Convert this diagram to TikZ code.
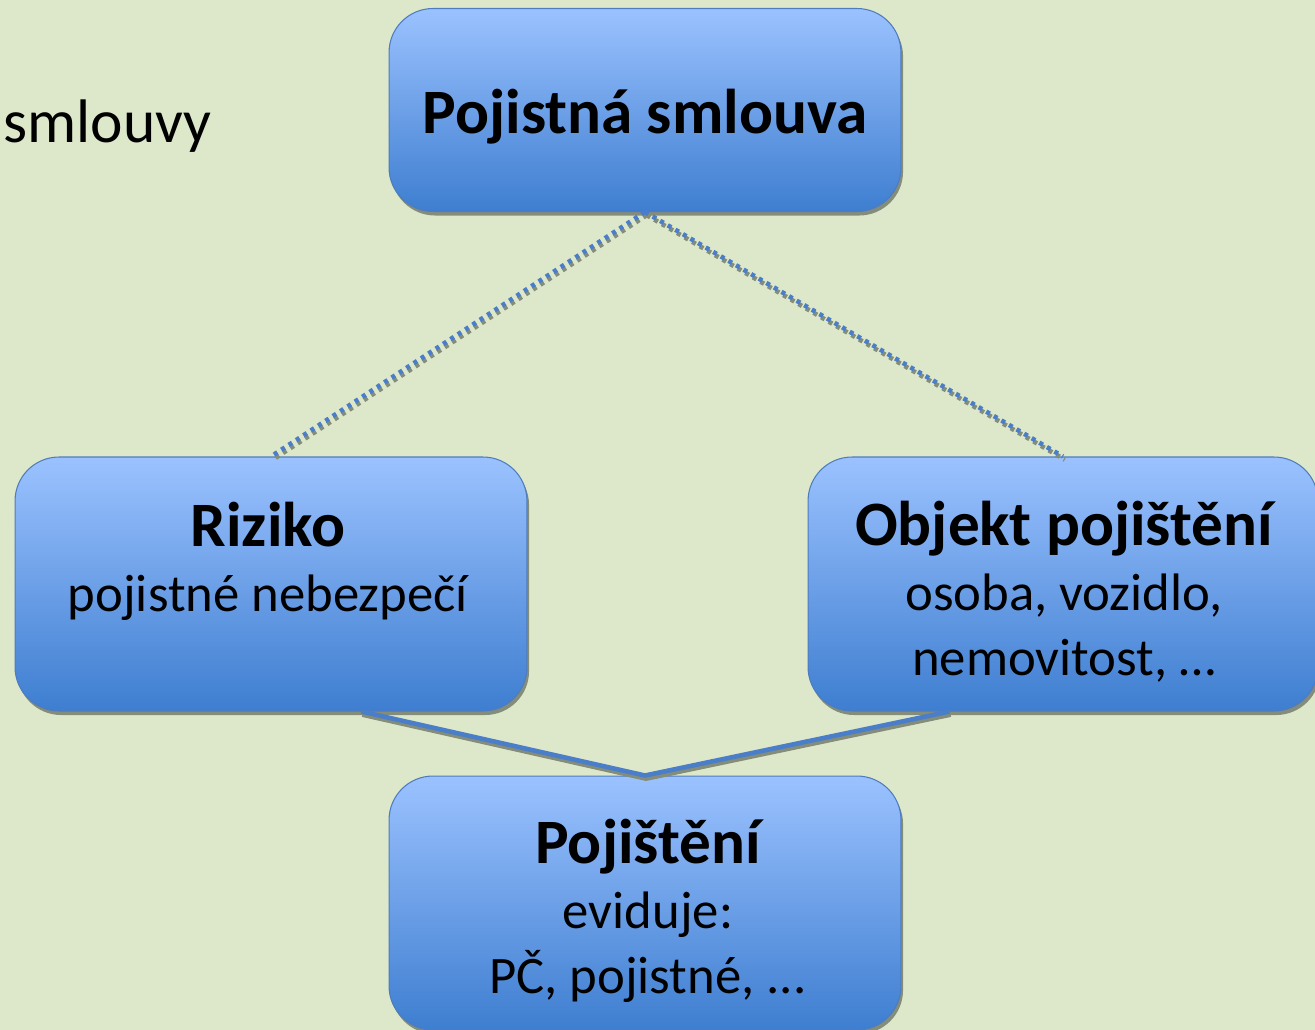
\documentclass[tikz,border=0pt]{standalone}
\usepackage{fontspec}
\setmainfont{Carlito}
\usetikzlibrary{calc,shadows}
\definecolor{bgcol}{RGB}{221,232,203}
\definecolor{boxtop}{RGB}{155,194,255}
\definecolor{boxbot}{RGB}{62,126,208}
\definecolor{boxline}{RGB}{78,124,190}
\definecolor{linkcol}{RGB}{74,126,200}
\definecolor{shadecol}{RGB}{132,140,122}

\begin{document}
\begin{tikzpicture}[x=0.02cm,y=-0.02cm,
  box/.style={draw=boxline,line width=0.6pt,rounded corners=25pt,
    top color=boxtop,bottom color=boxbot,minimum width=10.24cm,minimum height=5.08cm,
    drop shadow={shadow xshift=1.2pt,shadow yshift=-2.3pt,fill=shadecol,opacity=1}},
  boxtext/.style={align=center,font=\fontsize{30}{37}\selectfont},
  dotlink/.style={draw=linkcol,line width=2.6pt,dash pattern=on 2.3pt off 2.7pt},
  dotshade/.style={dotlink,draw=shadecol,transform canvas={shift={(1pt,-1.8pt)}}},
  solidlink/.style={draw=linkcol,line width=2.6pt},
  solidshade/.style={solidlink,draw=shadecol,transform canvas={shift={(0.6pt,-1.8pt)}}}]
\clip (0,0) rectangle (1315,1030);
\fill[bgcol] (0,0) rectangle (1315,1030);

\node[anchor=base east,inner sep=0pt,font=\fontsize{35}{42}\selectfont] (smlouvy) at (212,143) {smlouvy};

% boxes
\node[box,minimum height=4.06cm] (top) at (645,110) {};
\node[box] (riziko) at (271,584) {};
\node[box,minimum width=10.2cm] (objekt) at (1063,584) {};
\node[box] (pojisteni) at (645,903) {};

\node[boxtext] (toptxt) at (645,117) {\bfseries\fontsize{36}{43}\selectfont Pojistná smlouva};
\node[boxtext] (rizikotxt) at (268,561) {{\bfseries\fontsize{36}{43}\selectfont Riziko}\\ pojistné nebezpečí};
\node[boxtext] (objekttxt) at (1064,592) {{\bfseries\fontsize{36}{43}\selectfont Objekt pojištění}\\ osoba, vozidlo,\\ nemovitost, …};
\node[boxtext] (pojistenitxt) at (648,911) {{\bfseries\fontsize{36}{43}\selectfont Pojištění}\\ eviduje:\\ PČ, pojistné, ...};

% connectors
\foreach \t in {riziko,objekt}{
  \draw[dotshade] (top.south) -- (\t.north);
  \draw[dotlink] (top.south) -- (\t.north);
}
\coordinate (rizikoout) at ($(riziko.south west)!0.676!(riziko.south east)$);
\coordinate (objektout) at ($(objekt.south west)!0.278!(objekt.south east)$);
\draw[solidshade] (rizikoout) -- (pojisteni.north) -- (objektout);
\draw[solidlink] (rizikoout) -- (pojisteni.north) -- (objektout);
\end{tikzpicture}
\end{document}
